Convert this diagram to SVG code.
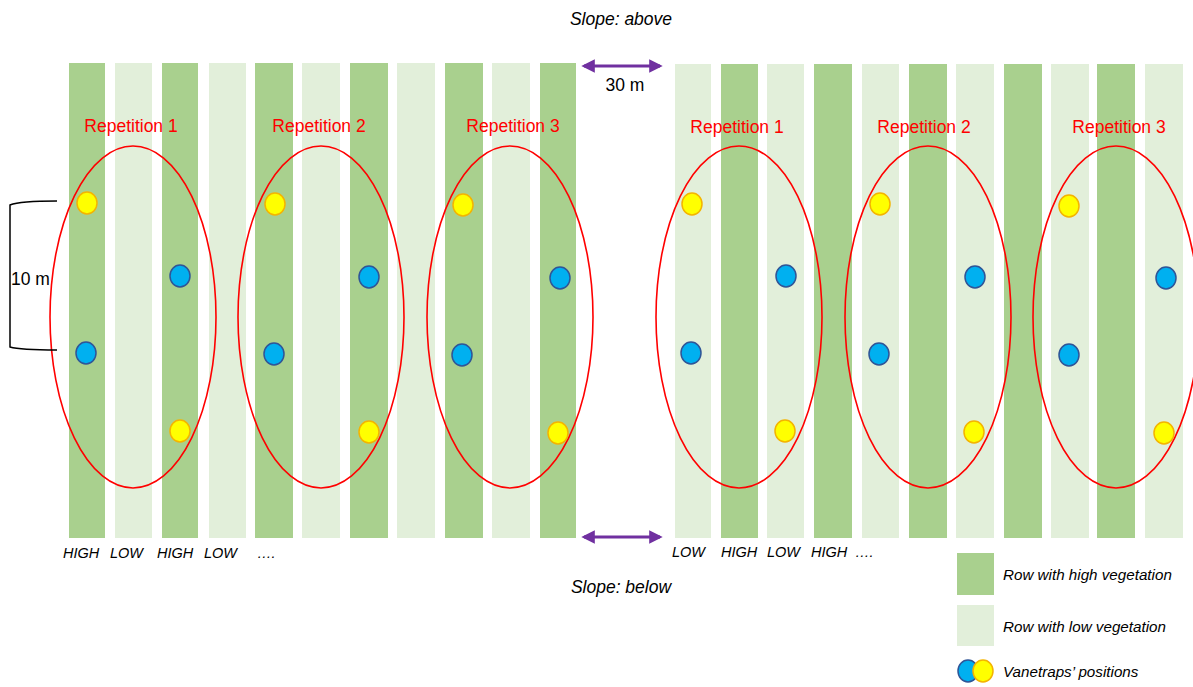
<svg xmlns="http://www.w3.org/2000/svg" width="1193" height="687" viewBox="0 0 1193 687">
<style>
.hi{fill:#a9d08e}
.lo{fill:#e2efda}
.rep{fill:none;stroke:#ff0000;stroke-width:1.6}
.replbl{font-family:"Liberation Sans",Arial,sans-serif;font-size:17.5px;fill:#ff0000;text-anchor:middle}
.blue{fill:#00b0f0;stroke:#2f5597;stroke-width:1.5}
.yel{fill:#ffff00;stroke:#f4b400;stroke-width:1.5}
.it{font-family:"Liberation Sans",Arial,sans-serif;font-style:italic;font-size:14.5px;fill:#000}
.lg{font-family:"Liberation Sans",Arial,sans-serif;font-style:italic;font-size:15.2px;fill:#000}
.t16{font-family:"Liberation Sans",Arial,sans-serif;font-size:17.5px;fill:#000}
.arr{stroke:#7030a0;stroke-width:3;fill:none}
</style>
<defs>
<marker id="ah" viewBox="0 0 10 10" refX="8" refY="5" markerWidth="5" markerHeight="4.5" orient="auto-start-reverse" markerUnits="strokeWidth">
<path d="M0,0 L10,5 L0,10 Z" fill="#7030a0"/>
</marker>
</defs>
<rect width="1193" height="687" fill="#fff"/>
<g id="rows-left">
<rect class="hi" x="69" y="63" width="36" height="475"/>
<rect class="lo" x="115" y="63" width="37" height="475"/>
<rect class="hi" x="162" y="63" width="36" height="475"/>
<rect class="lo" x="209" y="63" width="37" height="475"/>
<rect class="hi" x="255" y="63" width="38" height="475"/>
<rect class="lo" x="302" y="63" width="38" height="475"/>
<rect class="hi" x="350" y="63" width="38" height="475"/>
<rect class="lo" x="397" y="63" width="38" height="475"/>
<rect class="hi" x="445" y="63" width="38" height="475"/>
<rect class="lo" x="492" y="63" width="38" height="475"/>
<rect class="hi" x="540" y="63" width="36" height="475"/>
</g>
<g id="rows-right">
<rect class="lo" x="675" y="64" width="36" height="474"/>
<rect class="hi" x="721" y="64" width="37" height="474"/>
<rect class="lo" x="767" y="64" width="37" height="474"/>
<rect class="hi" x="814" y="64" width="38" height="474"/>
<rect class="lo" x="862" y="64" width="37" height="474"/>
<rect class="hi" x="909" y="64" width="38" height="474"/>
<rect class="lo" x="956" y="64" width="38" height="474"/>
<rect class="hi" x="1004" y="64" width="38" height="474"/>
<rect class="lo" x="1051" y="64" width="38" height="474"/>
<rect class="hi" x="1097" y="64" width="38" height="474"/>
<rect class="lo" x="1145" y="64" width="38" height="474"/>
</g>
<g id="rep-left-1">
<ellipse class="rep" cx="133" cy="317" rx="83" ry="171"/>
<text class="replbl" x="131" y="132">Repetition 1</text>
<ellipse class="yel" cx="87" cy="203" rx="10" ry="11"/>
<ellipse class="blue" cx="180" cy="276" rx="10" ry="11"/>
<ellipse class="blue" cx="86" cy="353" rx="10" ry="11"/>
<ellipse class="yel" cx="180" cy="431" rx="10" ry="11"/>
</g>
<g id="rep-left-2">
<ellipse class="rep" cx="321" cy="317" rx="83" ry="171"/>
<text class="replbl" x="319" y="132">Repetition 2</text>
<ellipse class="yel" cx="275" cy="204" rx="10" ry="11"/>
<ellipse class="blue" cx="369" cy="277" rx="10" ry="11"/>
<ellipse class="blue" cx="274" cy="354" rx="10" ry="11"/>
<ellipse class="yel" cx="369" cy="432" rx="10" ry="11"/>
</g>
<g id="rep-left-3">
<ellipse class="rep" cx="510" cy="317" rx="83" ry="171"/>
<text class="replbl" x="513" y="132">Repetition 3</text>
<ellipse class="yel" cx="463" cy="205" rx="10" ry="11"/>
<ellipse class="blue" cx="560" cy="278" rx="10" ry="11"/>
<ellipse class="blue" cx="462" cy="355" rx="10" ry="11"/>
<ellipse class="yel" cx="558" cy="433" rx="10" ry="11"/>
</g>
<g id="rep-right-1">
<ellipse class="rep" cx="739" cy="317" rx="83" ry="171"/>
<text class="replbl" x="737" y="133">Repetition 1</text>
<ellipse class="yel" cx="692" cy="204" rx="10" ry="11"/>
<ellipse class="blue" cx="786" cy="276" rx="10" ry="11"/>
<ellipse class="blue" cx="691" cy="353" rx="10" ry="11"/>
<ellipse class="yel" cx="785" cy="431" rx="10" ry="11"/>
</g>
<g id="rep-right-2">
<ellipse class="rep" cx="928" cy="317" rx="83" ry="171"/>
<text class="replbl" x="924" y="133">Repetition 2</text>
<ellipse class="yel" cx="880" cy="204" rx="10" ry="11"/>
<ellipse class="blue" cx="975" cy="277" rx="10" ry="11"/>
<ellipse class="blue" cx="879" cy="354" rx="10" ry="11"/>
<ellipse class="yel" cx="974" cy="432" rx="10" ry="11"/>
</g>
<g id="rep-right-3">
<ellipse class="rep" cx="1116" cy="317" rx="83" ry="171"/>
<text class="replbl" x="1119" y="133">Repetition 3</text>
<ellipse class="yel" cx="1069" cy="206" rx="10" ry="11"/>
<ellipse class="blue" cx="1166" cy="278" rx="10" ry="11"/>
<ellipse class="blue" cx="1069" cy="355" rx="10" ry="11"/>
<ellipse class="yel" cx="1164" cy="433" rx="10" ry="11"/>
</g>
<g id="connectors">
<line class="arr" x1="584" y1="66" x2="660" y2="66" marker-start="url(#ah)" marker-end="url(#ah)"/>
<line class="arr" x1="584" y1="537" x2="660" y2="537" marker-start="url(#ah)" marker-end="url(#ah)"/>
<path d="M57,201 Q20,201 10,205 L10,347 Q20,350 57,350" fill="none" stroke="#000" stroke-width="1.5"/>
</g>
<g id="labels">
<text class="t16" x="621" y="25" text-anchor="middle" font-style="italic">Slope: above</text>
<text class="t16" x="621" y="593" text-anchor="middle" font-style="italic">Slope: below</text>
<text class="t16" x="625" y="91" text-anchor="middle">30 m</text>
<text class="t16" x="11" y="285">10 m</text>
<text class="it" x="63" y="558">HIGH</text>
<text class="it" x="110" y="558">LOW</text>
<text class="it" x="157" y="558">HIGH</text>
<text class="it" x="204" y="558">LOW</text>
<text class="it" x="257" y="558">….</text>
<text class="it" x="672" y="557">LOW</text>
<text class="it" x="721" y="557">HIGH</text>
<text class="it" x="767" y="557">LOW</text>
<text class="it" x="811" y="557">HIGH</text>
<text class="it" x="855" y="557">….</text>
</g>
<g id="legend">
<rect class="hi" x="957" y="553" width="37" height="42"/>
<text class="lg" x="1003" y="580">Row with high vegetation</text>
<rect class="lo" x="957" y="605" width="37" height="41"/>
<text class="lg" x="1003" y="632">Row with low vegetation</text>
<ellipse class="blue" cx="968" cy="671" rx="10" ry="11"/>
<ellipse class="yel" cx="983" cy="671" rx="10" ry="11"/>
<text class="lg" x="1003" y="677">Vanetraps’ positions</text>
</g>
</svg>
